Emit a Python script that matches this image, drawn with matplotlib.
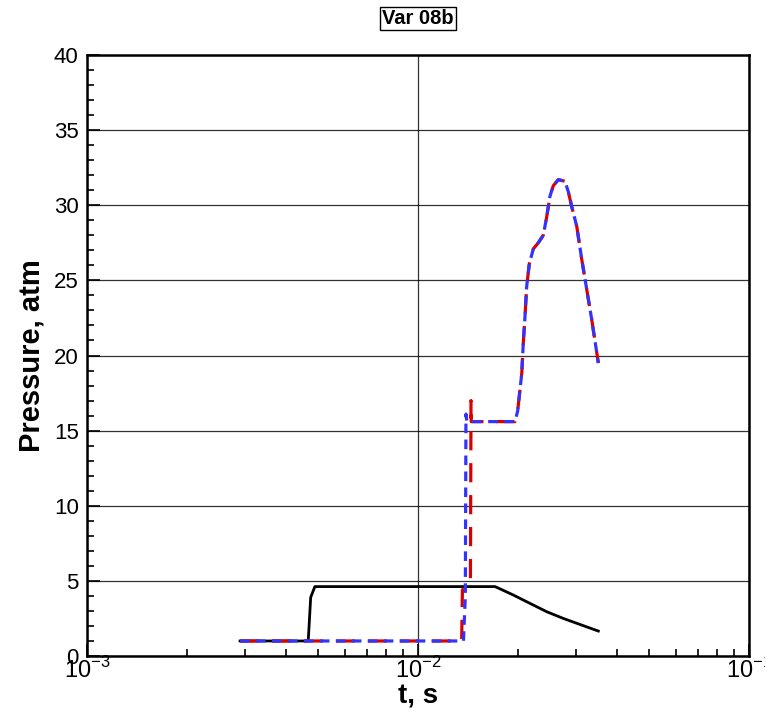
import numpy as np
import matplotlib
matplotlib.use('Agg')
import matplotlib.pyplot as plt
from matplotlib.ticker import FixedLocator, MultipleLocator, LogLocator, NullFormatter

plt.rcParams['font.family'] = ['Liberation Sans', 'DejaVu Sans']
plt.rcParams['mathtext.fontset'] = 'custom'
plt.rcParams['mathtext.rm'] = 'Liberation Sans'

# Black solid series
tBlack = [0.0029, 0.00466, 0.00474, 0.00488, 0.0171, 0.0194, 0.0218, 0.02447, 0.02748, 0.03086, 0.03506]
pBlack = [1.0, 1.0, 3.9, 4.62, 4.62, 4.06, 3.5, 2.95, 2.5, 2.1, 1.66]

# Upper hump shared by red / blue
tHump = [0.01964, 0.02000, 0.02058, 0.02081, 0.02105, 0.0213, 0.02169, 0.02231, 0.02309, 0.0239,
         0.02447, 0.02504, 0.02563, 0.02654, 0.0278, 0.02845, 0.02914, 0.03017, 0.03124,
         0.03234, 0.03348, 0.03506]
pHump = [15.6, 16.3, 18.8, 20.9, 22.6, 24.6, 26.1, 27.1, 27.5, 28.0,
         29.2, 30.6, 31.3, 31.7, 31.6, 30.9, 29.9, 28.6, 26.4,
         24.4, 22.4, 19.5]

# Red long-dash series
tRed = [0.0029, 0.01355, 0.01362, 0.0144, 0.01446, 0.01448, 0.0145] + tHump
pRed = [1.0, 1.0, 4.4, 5.0, 17.0, 15.6, 15.6] + pHump

# Blue short-dash series
tBlue = [0.0029, 0.01372, 0.01390, 0.01396, 0.01405, 0.0142] + tHump
pBlue = [1.0, 1.0, 4.0, 16.1, 15.6, 15.6] + pHump

fig = plt.figure(figsize=(7.65, 7.11), dpi=100)
ax = fig.add_axes([87 / 765, 55 / 711, 662 / 765, 601 / 711])

ax.plot(tBlack, pBlack, color='black', lw=2.0, zorder=3)
ax.plot(tRed, pRed, color=(0.85, 0.0, 0.0), lw=2.3, dashes=(6, 4), zorder=4)
ax.plot(tBlue, pBlue, color=(0.2, 0.2, 1.0), lw=2.3, dashes=(3, 2), zorder=5)

ax.set_xscale('log')
ax.set_xlim(1e-3, 1e-1)
ax.set_ylim(0, 40)

ax.xaxis.set_major_locator(FixedLocator([1e-3, 1e-2, 1e-1]))
ax.xaxis.set_minor_locator(LogLocator(base=10, subs=np.arange(2, 10)))
ax.xaxis.set_minor_formatter(NullFormatter())
ax.set_xticklabels(['10$^{-3}$', '10$^{-2}$', '10$^{-1}$'])
ax.yaxis.set_major_locator(MultipleLocator(5))
ax.yaxis.set_minor_locator(MultipleLocator(1))

ax.tick_params(which='both', direction='in', top=False, right=False, width=1.2)
ax.tick_params(which='major', length=9)
ax.tick_params(which='minor', length=5)
ax.tick_params(axis='x', labelsize=17, pad=1)
ax.tick_params(axis='y', labelsize=16, pad=6)

ax.grid(True, which='major', color='black', lw=0.9, alpha=0.8)
for s in ax.spines.values():
    s.set_linewidth(1.8)

ax.set_xlabel('t, s', fontsize=20, fontweight='bold', labelpad=0)
ax.set_ylabel('Pressure, atm', fontsize=21, fontweight='bold', labelpad=6)
ax.set_title('Var 08b', fontsize=14.5, fontweight='bold', pad=22,
             bbox=dict(facecolor='white', edgecolor='black', lw=1, pad=1.5))

fig.savefig('out.png', dpi=100)
